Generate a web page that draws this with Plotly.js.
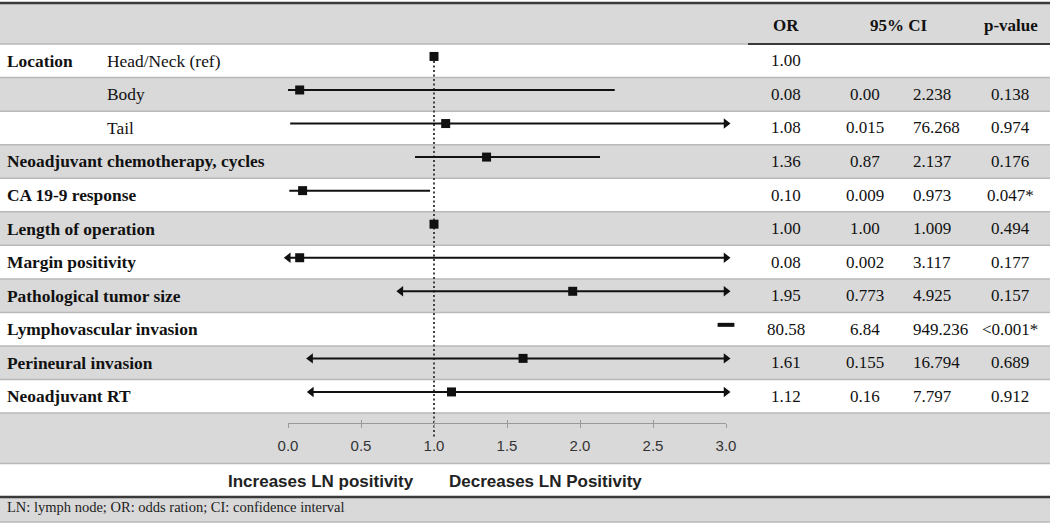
<!DOCTYPE html>
<html>
<head>
<meta charset="utf-8">
<script src="https://cdn.plot.ly/plotly-3.0.1.min.js"></script>
<style>
html,body{margin:0;padding:0;background:#fff;overflow:hidden;}
#chart{width:1050px;height:523px;}
</style>
</head>
<body>
<div id="chart"></div>
<script>
// ---------- data ----------
const mainLabels = ['Location', '', '', 'Neoadjuvant chemotherapy, cycles', 'CA 19-9 response',
  'Length of operation', 'Margin positivity', 'Pathological tumor size',
  'Lymphovascular invasion', 'Perineural invasion', 'Neoadjuvant RT'];
const subLabels = ['Head/Neck (ref)', 'Body', 'Tail', '', '', '', '', '', '', '', ''];
const orValues = [1.00, 0.08, 1.08, 1.36, 0.10, 1.00, 0.08, 1.95, 80.58, 1.61, 1.12];
const ciLow = [null, 0.00, 0.015, 0.87, 0.009, 1.00, 0.002, 0.773, 6.84, 0.155, 0.16];
const ciHigh = [null, 2.238, 76.268, 2.137, 0.973, 1.009, 3.117, 4.925, 949.236, 16.794, 7.797];
const orText = ['1.00', '0.08', '1.08', '1.36', '0.10', '1.00', '0.08', '1.95', '80.58', '1.61', '1.12'];
const ciLowText = ['', '0.00', '0.015', '0.87', '0.009', '1.00', '0.002', '0.773', '6.84', '0.155', '0.16'];
const ciHighText = ['', '2.238', '76.268', '2.137', '0.973', '1.009', '3.117', '4.925', '949.236', '16.794', '7.797'];
const pText = ['', '0.138', '0.974', '0.176', '0.047*', '0.494', '0.177', '0.157', '<0.001*', '0.689', '0.912'];
const leftArrow = [false, false, false, false, false, false, true, true, false, true, true];
const headers = ['OR', '95% CI', 'p-value'];
const tickVals = [0, 0.5, 1, 1.5, 2, 2.5, 3];
const tickText = ['0.0', '0.5', '1.0', '1.5', '2.0', '2.5', '3.0'];
const refValue = 1;
const leftNote = 'Increases LN positivity';
const rightNote = 'Decreases LN Positivity';
const footnote = 'LN: lymph node; OR: odds ration; CI: confidence interval';

// ---------- layout geometry ----------
const W = 1050, H = 523;
const rowPx = 33.55, firstCenterPx = 60.8;
const X_MIN = 0, X_MAX = 3;
const xPx0 = 288, xPx1 = 726;
const markOff = -0.13;            // marks sit slightly above row center
const n = orValues.length;
const serif = 'Liberation Serif, Times New Roman, serif';
const sans = 'Liberation Sans, Arial, sans-serif';
const grey = '#d9d9d9', sep = '#b9b9b9', dark = '#3a3a3a';
const pyToRow = p => (p - firstCenterPx) / rowPx;
const px = v => v / W;

// ---------- traces ----------
const lx = [], ly = [];
const rax = [], ray = [], lax = [], lay = [];
const offx = [], offy = [];
const sqx = [], sqy = [];
for (let i = 0; i < n; i++) {
  const y = i + markOff;
  if (ciLow[i] !== null && ciLow[i] > X_MAX) { offx.push(X_MAX); offy.push(y); continue; }
  sqx.push(orValues[i]); sqy.push(y);
  if (ciLow[i] === null) continue;
  const a = Math.max(ciLow[i], X_MIN), b = Math.min(ciHigh[i], X_MAX);
  lx.push(a, b, null); ly.push(y, y, null);
  if (ciHigh[i] > X_MAX) { rax.push(X_MAX); ray.push(y); }
  if (leftArrow[i]) { lax.push(a); lay.push(y); }
}

const traces = [
  {type: 'scatter', mode: 'lines', x: lx, y: ly, line: {color: '#111', width: 2},
   hoverinfo: 'skip', cliponaxis: false},
  {type: 'scatter', mode: 'markers', x: rax, y: ray, cliponaxis: false, hoverinfo: 'skip',
   marker: {symbol: 'triangle-right', size: 9, color: '#111'}},
  {type: 'scatter', mode: 'markers', x: lax, y: lay, cliponaxis: false, hoverinfo: 'skip',
   marker: {symbol: 'triangle-left', size: 9, color: '#111'}},
  {type: 'scatter', mode: 'markers', x: sqx, y: sqy, cliponaxis: false, hoverinfo: 'skip',
   marker: {symbol: 'square', size: 9, color: '#111'}},
  {type: 'scatter', mode: 'markers', x: offx, y: offy, cliponaxis: false, hoverinfo: 'skip',
   marker: {symbol: 'line-ew', size: 12, line: {color: '#111', width: 4}}},
  {type: 'scatter', mode: 'markers', x: [], y: [], xaxis: 'x2', yaxis: 'y', hoverinfo: 'skip'}
];

// ---------- shapes ----------
const shapes = [];
function band(r0, r1, color) {
  shapes.push({type: 'rect', xref: 'paper', yref: 'y', x0: 0, x1: 1, y0: r0, y1: r1,
    fillcolor: color, line: {width: 0}, layer: 'below'});
}
function hline(r, x0, x1, color, w) {
  shapes.push({type: 'line', xref: 'paper', yref: 'y', x0: x0, x1: x1, y0: r, y1: r,
    line: {color: color, width: w}, layer: 'below'});
}
const headerTop = pyToRow(3);
band(headerTop, -0.5, grey);
for (let i = 0; i < n; i++) if (i % 2 === 1) band(i - 0.5, i + 0.5, grey);
const axisRowTop = n - 0.5, axisRowBot = n + 1.0, noteBot = n + 2.0;
band(axisRowTop, axisRowBot, grey);
band(noteBot, pyToRow(522), grey);
for (let i = 0; i <= n; i++) hline(i - 0.5, 0, 1, sep, 1.5);
hline(axisRowBot, 0, 1, sep, 1.5);
hline(pyToRow(522), 0, 1, sep, 1.5);
hline(-0.5, px(748), 1, dark, 2);
hline(headerTop, 0, 1, dark, 2.5);
hline(noteBot, 0, 1, dark, 2.5);
// reference line at OR = 1
shapes.push({type: 'line', xref: 'x', yref: 'y', x0: refValue, x1: refValue,
  y0: markOff, y1: pyToRow(438), line: {color: '#444', width: 2, dash: '2px,2.5px'}, layer: 'below'});

// ---------- annotations ----------
const ann = [];
function txt(x, y, text, opts) {
  ann.push(Object.assign({xref: 'paper', yref: 'y', x: x, y: y, text: text, showarrow: false,
    xanchor: 'left', yanchor: 'middle', font: {family: serif, size: 17, color: '#111'}}, opts || {}));
}
const labFont = {family: serif, size: 17.4, color: '#111'};
for (let i = 0; i < n; i++) {
  if (mainLabels[i]) txt(px(5), i, '<b>' + mainLabels[i] + '</b>', {font: labFont});
  if (subLabels[i]) txt(px(105), i, subLabels[i], {font: labFont});
  txt(px(786), i, orText[i], {xanchor: 'center'});
  if (ciLowText[i]) txt(px(865), i, ciLowText[i], {xanchor: 'center'});
  if (ciHighText[i]) txt(px(911), i, ciHighText[i]);
  if (pText[i]) txt(px(1010), i, pText[i], {xanchor: 'center'});
}
const hy = pyToRow(25);
txt(px(786), hy, '<b>' + headers[0] + '</b>', {xanchor: 'center'});
txt(px(899), hy, '<b>' + headers[1] + '</b>', {xanchor: 'center'});
txt(px(1011), hy, '<b>' + headers[2] + '</b>', {xanchor: 'center'});
const noteY = pyToRow(481);
ann.push({xref: 'x', yref: 'y', x: refValue, y: noteY, xshift: -18, text: '<b>' + leftNote + '</b>',
  showarrow: false, xanchor: 'right', yanchor: 'middle', font: {family: sans, size: 17, color: '#222'}});
ann.push({xref: 'x', yref: 'y', x: refValue, y: noteY, xshift: 13, text: '<b>' + rightNote + '</b>',
  showarrow: false, xanchor: 'left', yanchor: 'middle', font: {family: sans, size: 17, color: '#222'}});
txt(px(5), pyToRow(507), footnote, {font: {family: serif, size: 14.5, color: '#222'}});

// ---------- layout ----------
const dom = [xPx0 / W, xPx1 / W];
const axisPos = 1 - 423 / H;
const layout = {
  width: W, height: H, autosize: false,
  margin: {l: 0, r: 0, t: 0, b: 0, pad: 0},
  paper_bgcolor: '#ffffff', plot_bgcolor: 'rgba(0,0,0,0)',
  showlegend: false,
  xaxis: {domain: dom, range: [X_MIN, X_MAX], anchor: 'free', position: axisPos,
    showgrid: false, zeroline: false, showline: true, linecolor: '#9a9a9a', linewidth: 1,
    ticks: 'outside', ticklen: 4, tickwidth: 1, tickcolor: '#9a9a9a',
    tickmode: 'array', tickvals: tickVals, ticktext: tickText, ticklabelstandoff: 5,
    tickfont: {family: sans, size: 15, color: '#333'}, fixedrange: true},
  xaxis2: {domain: dom, range: [X_MIN, X_MAX], overlaying: 'x', anchor: 'free', position: axisPos,
    showgrid: false, zeroline: false, showline: false, showticklabels: false,
    ticks: 'inside', ticklen: 3, tickwidth: 1, tickcolor: '#9a9a9a',
    tickmode: 'array', tickvals: tickVals, fixedrange: true},
  yaxis: {domain: [0, 1], range: [pyToRow(H), pyToRow(0)], visible: false, fixedrange: true,
    showgrid: false, zeroline: false},
  shapes: shapes,
  annotations: ann
};
Plotly.newPlot('chart', traces, layout, {displayModeBar: false, staticPlot: true});
</script>
</body>
</html>
